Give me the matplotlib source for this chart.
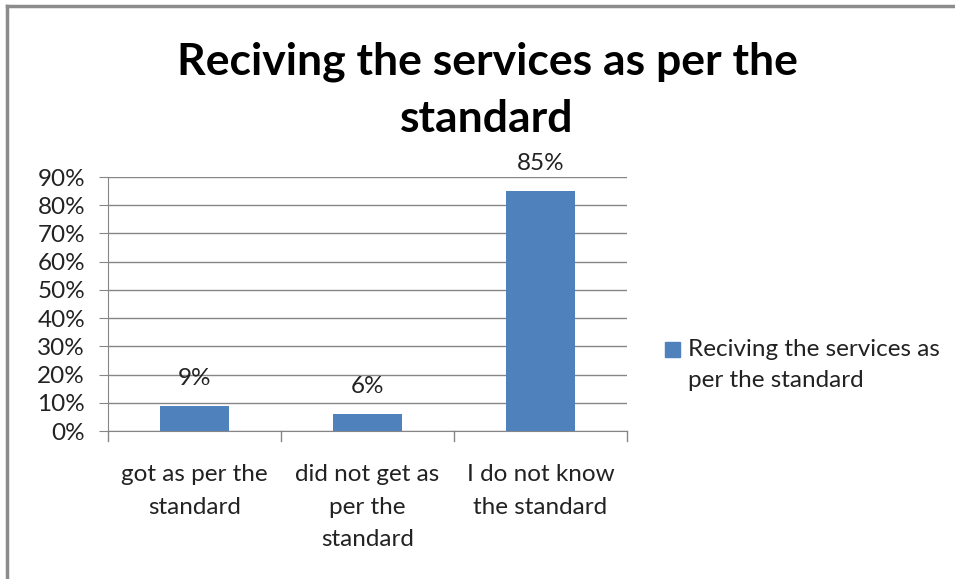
import matplotlib
matplotlib.use("Agg")
import matplotlib.pyplot as plt
from matplotlib.lines import Line2D
from matplotlib.patches import Rectangle

categories = ["got as per the\nstandard", "did not get as\nper the\nstandard", "I do not know\nthe standard"]
values = [9, 6, 85]
value_labels = ["9%", "6%", "85%"]
yticks = [0, 10, 20, 30, 40, 50, 60, 70, 80, 90]
ytick_labels = ["0%", "10%", "20%", "30%", "40%", "50%", "60%", "70%", "80%", "90%"]
series_name = "Reciving the services as\nper the standard"
title = "Reciving the services as per the\nstandard"

FONT = ["Lato", "DejaVu Sans"]
BAR = "#4F81BD"
GRID = "#868686"
TXT = "#222222"
FS = 17.5

fig = plt.figure(figsize=(9.55, 5.79), dpi=100)
W, H = 955, 579

# chart border (top and left visible)
fig.add_artist(Line2D([7/W, 7/W], [0, 1 - 6/H], color="#8C8C8C", lw=2.5, transform=fig.transFigure))
fig.add_artist(Line2D([7/W, 1], [1 - 6/H, 1 - 6/H], color="#8C8C8C", lw=2.5, transform=fig.transFigure))

ax = fig.add_axes([108/W, 1 - 431/H, (627 - 108)/W, (431 - 177)/H])
x = list(range(len(categories)))
ax.bar(x, values, width=0.40, color=BAR, zorder=3)
ax.set_xlim(-0.5, len(categories) - 0.5)
ax.set_ylim(0, 90)
ax.set_yticks(yticks)
ax.set_yticklabels(ytick_labels, family=FONT, fontsize=FS, color=TXT)
ax.yaxis.grid(True, color=GRID, lw=1, zorder=0)
ax.set_xticks(x)
ax.set_xticklabels(categories, family=FONT, fontsize=FS, color=TXT, linespacing=1.68)
ax.tick_params(axis="x", length=0, pad=24)
ax.tick_params(axis="y", length=6.5, color=GRID, pad=10)
# category separator ticks
for b in [-0.5, 0.5, 1.5, 2.5]:
    ax.plot([b, b], [0, -0.04], transform=ax.get_xaxis_transform(), color=GRID, lw=1, clip_on=False)
for s in ["top", "right"]:
    ax.spines[s].set_visible(False)
ax.spines["left"].set_color(GRID)
ax.spines["bottom"].set_color(GRID)

for xi, v, lab in zip(x, values, value_labels):
    ax.annotate(lab, (xi, v), xytext=(0, 12), textcoords="offset points", ha="center", va="bottom",
                family=FONT, fontsize=FS, color=TXT)

fig.text(487/W, 1 - 90/H, title, ha="center", va="center", family=FONT, fontsize=32,
         fontweight="bold", linespacing=1.52, color="black")

# legend
fig.add_artist(Rectangle((665/W, 1 - 357/H), 15/W, 15/H, color=BAR, transform=fig.transFigure))
fig.text(688/W, 1 - 365/H, series_name, ha="left", va="center", family=FONT, fontsize=FS,
         linespacing=1.62, color=TXT)

fig.savefig("out.png", dpi=100, facecolor="white")
